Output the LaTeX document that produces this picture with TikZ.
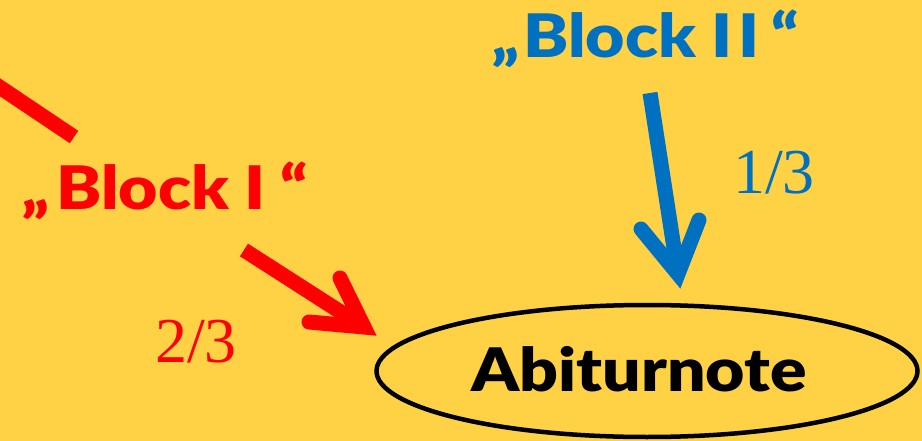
\documentclass[tikz,border=0pt]{standalone}
\usepackage{fontspec}
\setmainfont{Liberation Serif}
\newfontfamily\blockfont{Lato Black}[FakeStretch=1.13]
\usetikzlibrary{shapes.geometric}
\definecolor{bgyellow}{RGB}{255,210,70}
\definecolor{myred}{RGB}{255,0,0}
\definecolor{myblue}{RGB}{0,112,192}
\tikzset{
  blocklabel/.style={anchor=base west,inner sep=0pt,font=\blockfont\fontsize{60}{60}\selectfont},
  fraclabel/.style={anchor=base west,inner sep=0pt,font=\fontsize{64}{64}\selectfont},
  shaft/.style={line width=15pt,line cap=butt},
  barb/.style={line width=15pt,line cap=round,line join=miter,miter limit=10},
}
\begin{document}
\begin{tikzpicture}[x=1pt,y=-1pt]
\fill[bgyellow] (0,0) rectangle (922,441);
\useasboundingbox (0,0) rectangle (922,441);

% nodes
\node[ellipse,draw=black,line width=4.5pt,minimum width=541pt,minimum height=132pt,inner sep=0pt] (abi) at (647,371) {};
\node[anchor=base,inner sep=0pt,font=\blockfont\fontsize{60}{60}\selectfont] (abitext) at (639,391) {Abiturnote};
\node[blocklabel,text=myred] (b1) at (22,210) {„\kern7pt Block I\kern15pt“};
\node[blocklabel,text=myblue] (b2) at (492,58) {„\kern4pt Block I\kern6pt I\kern12pt“};
\node[fraclabel,text=myred] (f23) at (155,362) {2/3};
\node[fraclabel,text=myblue] (f13) at (733,194) {1/3};

% red line at top left
\coordinate (rA) at (-5,84);
\coordinate (rB) at (74,137);
\draw[myred,shaft] (rA) -- (rB);

% red arrow Block I -> Abiturnote
\coordinate (r1) at (244,250);
\coordinate (r2) at (364,327);
\coordinate (rU) at (340,278);
\coordinate (rL) at (309,322);
\draw[myred,shaft] (r1) -- (r2);
\draw[myred,barb] (rU) -- (r2) -- (rL);

% blue arrow Block II -> Abiturnote
\coordinate (u1) at (650,93);
\coordinate (u2) at (678,274);
\coordinate (uL) at (641,229);
\coordinate (uR) at (699,220);
\draw[myblue,shaft] (u1) -- (u2);
\draw[myblue,barb] (uL) -- (u2) -- (uR);
\end{tikzpicture}
\end{document}
